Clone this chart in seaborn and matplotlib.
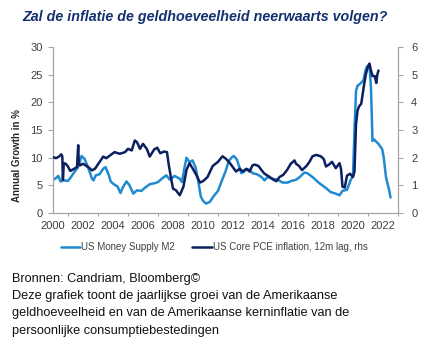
import matplotlib
matplotlib.use("Agg")
import matplotlib.pyplot as plt
from matplotlib.ticker import MultipleLocator
import numpy as np
import pandas as pd
import seaborn as sns

# US money supply M2, annual growth in % (left axis)
m2_years = [2000.0, 2000.2, 2000.35, 2000.5, 2000.7, 2001.0, 2001.2, 2001.45, 2001.65, 2001.8,
            2001.9, 2002.1, 2002.3, 2002.5, 2002.6, 2002.7, 2002.85, 2003.1, 2003.35, 2003.5,
            2003.7, 2003.85, 2004.05, 2004.3, 2004.5, 2004.65, 2004.9, 2005.1, 2005.35, 2005.6,
            2005.9, 2006.1, 2006.45, 2006.8, 2007.0, 2007.3, 2007.55, 2007.8, 2008.1, 2008.45,
            2008.6, 2008.75, 2008.9, 2009.1, 2009.3, 2009.5, 2009.7, 2009.85, 2010.0, 2010.2,
            2010.45, 2010.7, 2011.0, 2011.25, 2011.5, 2011.7, 2011.9, 2012.05, 2012.25, 2012.4,
            2012.55, 2012.7, 2012.9, 2013.1, 2013.3, 2013.6, 2013.9, 2014.1, 2014.3, 2014.6,
            2015.0, 2015.3, 2015.65, 2015.9, 2016.2, 2016.45, 2016.75, 2016.95, 2017.3, 2017.7,
            2018.2, 2018.5, 2018.85, 2019.1, 2019.3, 2019.6, 2019.85, 2020.0, 2020.1, 2020.2,
            2020.3, 2020.45, 2020.6, 2020.7, 2020.85, 2020.95, 2021.1, 2021.2, 2021.3, 2021.4,
            2021.5, 2021.7, 2021.95, 2022.05, 2022.2, 2022.3, 2022.4, 2022.5]
m2_growth = [6.0, 6.3, 6.7, 5.7, 5.9, 5.8, 6.5, 7.5, 8.2, 9.3,
             10.3, 9.8, 8.5, 7.0, 6.2, 5.9, 6.8, 7.0, 8.0, 8.3,
             7.0, 5.7, 5.2, 4.8, 3.6, 4.6, 5.7, 5.0, 3.5, 4.1,
             4.0, 4.5, 5.2, 5.4, 5.6, 6.3, 6.8, 6.0, 6.7, 6.2,
             5.6, 8.0, 10.0, 9.2, 9.5, 8.3, 5.5, 3.0, 2.2, 1.7,
             2.0, 3.0, 4.0, 5.8, 7.5, 9.3, 10.0, 10.3, 9.7, 8.5,
             7.2, 7.4, 7.9, 7.8, 7.2, 7.0, 6.5, 5.9, 6.5, 6.2,
             6.0, 5.5, 5.5, 5.8, 6.0, 6.5, 7.3, 7.2, 6.5, 5.5,
             4.5, 3.8, 3.5, 3.2, 4.0, 4.2, 6.0, 6.8, 15.0, 22.0,
             23.0, 23.3, 23.7, 24.0, 26.0, 26.5, 26.8, 22.5, 13.0, 13.3,
             13.0, 12.5, 11.5, 10.0, 6.5, 5.3, 4.3, 2.8]

# US core PCE inflation with a 12-month lag, in % (right axis)
pce_years = [2000.0, 2000.2, 2000.4, 2000.55, 2000.62, 2000.66, 2000.72, 2000.85, 2001.0, 2001.15,
             2001.35, 2001.6, 2001.68, 2001.72, 2001.8, 2002.0, 2002.35, 2002.6, 2002.8, 2003.1,
             2003.35, 2003.55, 2003.8, 2004.1, 2004.45, 2004.8, 2005.0, 2005.25, 2005.45, 2005.6,
             2005.8, 2006.0, 2006.25, 2006.45, 2006.75, 2006.95, 2007.15, 2007.4, 2007.6, 2007.7,
             2007.85, 2008.0, 2008.2, 2008.45, 2008.7, 2008.9, 2009.1, 2009.3, 2009.55, 2009.8,
             2010.0, 2010.3, 2010.65, 2011.0, 2011.3, 2011.55, 2011.8, 2012.0, 2012.2, 2012.45,
             2012.65, 2012.9, 2013.1, 2013.3, 2013.45, 2013.7, 2013.9, 2014.1, 2014.4, 2014.7,
             2014.9, 2015.1, 2015.35, 2015.6, 2015.85, 2016.1, 2016.2, 2016.4, 2016.6, 2016.9,
             2017.1, 2017.3, 2017.55, 2017.85, 2018.05, 2018.2, 2018.4, 2018.6, 2018.85, 2019.1,
             2019.2, 2019.3, 2019.45, 2019.6, 2019.8, 2020.0, 2020.1, 2020.2, 2020.3, 2020.4,
             2020.55, 2020.7, 2020.85, 2021.0, 2021.1, 2021.2, 2021.3, 2021.45, 2021.55, 2021.62,
             2021.7]
pce_inflation = [2.02, 1.98, 2.04, 2.12, 2.05, 1.2, 1.8, 1.78, 1.68, 1.52,
                 1.58, 1.66, 2.45, 1.8, 1.72, 1.78, 1.66, 1.54, 1.6, 1.84,
                 2.04, 1.98, 2.08, 2.2, 2.14, 2.2, 2.32, 2.26, 2.62, 2.56,
                 2.32, 2.5, 2.32, 2.04, 2.3, 2.36, 2.16, 2.22, 2.2, 1.8,
                 1.32, 0.88, 0.82, 0.64, 0.96, 1.56, 1.8, 1.62, 1.38, 1.1,
                 1.15, 1.3, 1.7, 1.85, 2.05, 1.95, 1.8, 1.65, 1.5, 1.6,
                 1.5, 1.6, 1.5, 1.72, 1.75, 1.7, 1.55, 1.42, 1.32, 1.2,
                 1.15, 1.3, 1.38, 1.55, 1.78, 1.9, 1.78, 1.7, 1.55, 1.7,
                 1.85, 2.05, 2.1, 2.05, 1.95, 1.68, 1.75, 1.85, 1.62, 1.8,
                 1.6, 0.95, 0.92, 1.35, 1.42, 1.3, 1.5, 3.2, 3.7, 3.85,
                 3.95, 4.5, 5.0, 5.3, 5.4, 5.15, 4.95, 4.95, 4.7, 5.0,
                 5.15]

year_ticks = list(range(2000, 2023, 2))
left_ticks = [0, 5, 10, 15, 20, 25, 30]
right_ticks = [0, 1, 2, 3, 4, 5, 6]

title = "Zal de inflatie de geldhoeveelheid neerwaarts volgen?"
m2_label = "US Money Supply M2"
pce_label = "US Core PCE inflation, 12m lag, rhs"
y_label = "Annual Growth in %"
footer_lines = [
    "Bronnen: Candriam, Bloomberg\u00a9",
    "Deze grafiek toont de jaarlijkse groei van de Amerikaanse",
    "geldhoeveelheid en van de Amerikaanse kerninflatie van de",
    "persoonlijke consumptiebestedingen",
]

sns.set_theme(style="white")
plt.rcParams["font.family"] = ["Liberation Sans", "DejaVu Sans"]

LIGHT = "#1f8ad0"
DARK = "#0c1f5e"
SPINE = "#a6a6a6"
TICKTXT = "#404040"

m2_df = pd.DataFrame({"year": m2_years, "growth": m2_growth})
pce_df = pd.DataFrame({"year": pce_years, "inflation": pce_inflation})

fig = plt.figure(figsize=(4.37, 3.48), dpi=100)
ax = fig.add_axes([53 / 437, 1 - 213 / 348, (398 - 53) / 437, (213 - 47) / 348])
ax2 = ax.twinx()

sns.lineplot(data=m2_df, x="year", y="growth", ax=ax, color=LIGHT, linewidth=1.8,
             label=m2_label, legend=False)
sns.lineplot(data=pce_df, x="year", y="inflation", ax=ax2, color=DARK, linewidth=1.8,
             label=pce_label, legend=False)

ax.set_xlim(2000, 2023)
ax.set_ylim(0, 30)
ax2.set_ylim(0, 6)
ax.set_xticks(year_ticks)
ax.xaxis.set_minor_locator(MultipleLocator(1))
ax.set_yticks(left_ticks)
ax2.set_yticks(right_ticks)
ax.set_xlabel("")
ax.set_ylabel("")
ax2.set_ylabel("")

for a in (ax, ax2):
    a.spines["top"].set_visible(False)
    for side in ("left", "right", "bottom"):
        a.spines[side].set_color(SPINE)
        a.spines[side].set_linewidth(0.9)
    a.tick_params(axis="both", which="both", direction="out", color=SPINE,
                  labelsize=8, labelcolor=TICKTXT, width=0.8)
    a.tick_params(axis="both", which="major", length=3.5, pad=2)
    a.tick_params(axis="x", which="minor", length=2.5, bottom=True)
    a.grid(False)
ax.spines["right"].set_visible(False)
ax2.spines["left"].set_visible(False)
ax2.spines["bottom"].set_visible(False)
ax.tick_params(axis="y", which="major", pad=4)
ax2.tick_params(axis="y", which="major", pad=6)

fig.text(17 / 437, 1 - 156 / 348, y_label, rotation=90, ha="center", va="center",
         fontsize=7, fontweight="bold", color="#262626")

fig.text(22 / 437, 1 - 17 / 348, title, ha="left", va="center", fontsize=10.3,
         fontweight="bold", fontstyle="italic", color="#15306e")

handles = [ax.get_lines()[0], ax2.get_lines()[0]]
fig.legend(handles, [m2_label, pce_label], loc="center",
           bbox_to_anchor=(214 / 437, 1 - 247 / 348), ncol=2, frameon=False,
           fontsize=7, handlelength=2.0, handletextpad=0.1, columnspacing=1.8,
           labelcolor=TICKTXT)

for i, line in enumerate(footer_lines):
    fig.text(12 / 437, 1 - (279 + 17.2 * i) / 348, line, ha="left", va="center",
             fontsize=9.2, color="#111111")

fig.savefig("out.png", dpi=100)
